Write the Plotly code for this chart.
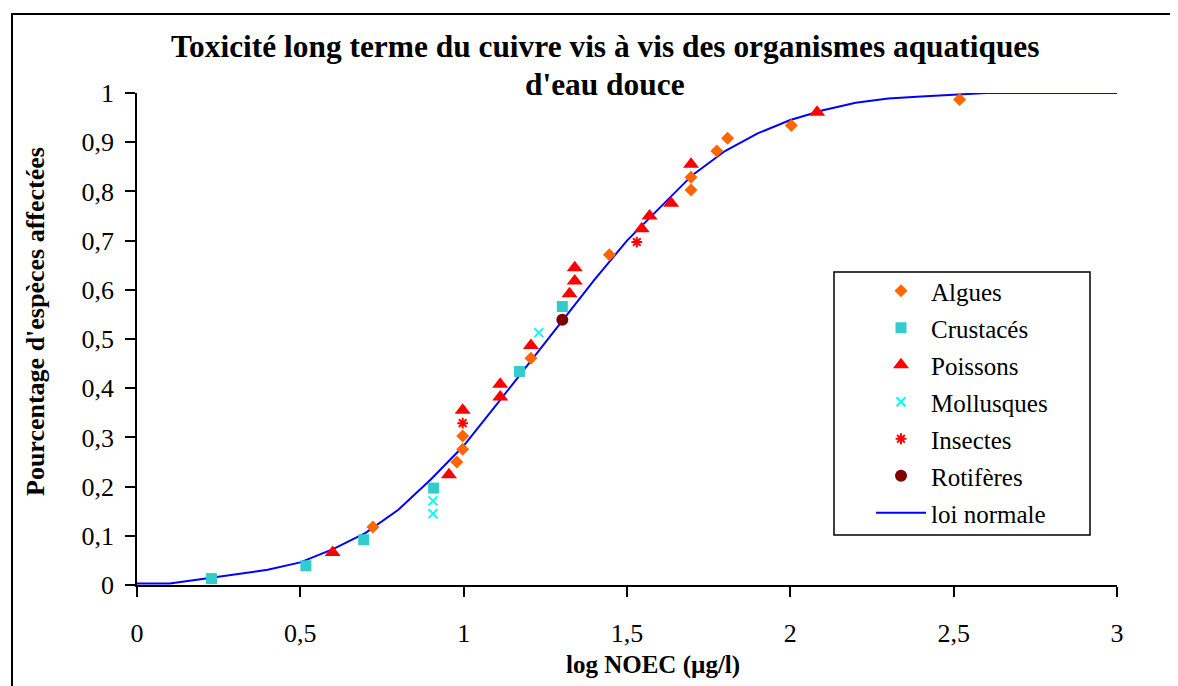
import plotly.graph_objects as go

# ---- data ----
algues_x = [0.722, 0.979, 0.997, 0.997, 1.206, 1.446, 1.696, 1.696, 1.775, 1.808, 2.003, 2.518]
algues_y = [0.118, 0.250, 0.276, 0.303, 0.461, 0.671, 0.803, 0.829, 0.882, 0.908, 0.934, 0.987]

crust_x = [0.228, 0.517, 0.694, 0.908, 1.171, 1.302]
crust_y = [0.013, 0.039, 0.092, 0.197, 0.434, 0.566]

poiss_x = [0.599, 0.955, 0.997, 1.112, 1.112, 1.206, 1.324, 1.340, 1.340, 1.545, 1.569, 1.635, 1.696, 2.082]
poiss_y = [0.066, 0.224, 0.355, 0.382, 0.408, 0.487, 0.592, 0.618, 0.645, 0.724, 0.750, 0.776, 0.855, 0.961]

moll_x = [0.906, 0.906, 1.230]
moll_y = [0.145, 0.171, 0.513]

insect_x = [0.997, 1.530]
insect_y = [0.329, 0.697]

rotif_x = [1.302]
rotif_y = [0.539]

curve_x = [0.0, 0.1, 0.2, 0.3, 0.4, 0.5, 0.6, 0.7, 0.8, 0.9, 1.0, 1.1, 1.2, 1.3, 1.4, 1.5,
           1.6, 1.7, 1.8, 1.9, 2.0, 2.1, 2.2, 2.3, 2.4, 2.5, 2.6, 2.7, 2.8, 2.9, 3.0]
curve_y = [0.003, 0.003, 0.012, 0.021, 0.031, 0.046, 0.073, 0.106, 0.153, 0.215, 0.283,
           0.366, 0.451, 0.535, 0.620, 0.700, 0.767, 0.833, 0.882, 0.918, 0.945, 0.965,
           0.980, 0.989, 0.993, 0.996, 1.0, 1.0, 1.0, 1.0, 1.0]

x_ticks = [0, 0.5, 1, 1.5, 2, 2.5, 3]
y_ticks = [0, 0.1, 0.2, 0.3, 0.4, 0.5, 0.6, 0.7, 0.8, 0.9, 1]

title_l1 = "Toxicité long terme du cuivre vis à vis des organismes aquatiques"
title_l2 = "d'eau douce"
x_title = "log NOEC (µg/l)"
y_title = "Pourcentage d'espèces affectées"

FONT = "Liberation Serif"

fig = go.Figure()

fig.add_trace(go.Scatter(
    x=curve_x, y=curve_y, mode="lines", name="loi normale",
    line=dict(color="#0000FF", width=2), legendrank=7, legendgroup="g7"))

series = [
    ("Algues", algues_x, algues_y, dict(symbol="diamond", size=10, color="#FF6600")),
    ("Crustacés", crust_x, crust_y, dict(symbol="square", size=11, color="#33CCCC")),
    ("Poissons", poiss_x, poiss_y, dict(symbol="triangle-up", size=14, color="#FF0000")),
    ("Mollusques", moll_x, moll_y, dict(symbol="x-thin-open", size=9, color="#00FFFF",
                                        line=dict(color="#00FFFF", width=2))),
    ("Insectes", insect_x, insect_y, dict(symbol="asterisk-open", size=9, color="#FF0000",
                                          line=dict(color="#FF0000", width=2))),
    ("Rotifères", rotif_x, rotif_y, dict(symbol="circle", size=12, color="#800000")),
]
for i, (name, xs, ys, mk) in enumerate(series):
    fig.add_trace(go.Scatter(
        x=xs, y=ys, mode="markers", name=name, marker=mk,
        cliponaxis=False, legendrank=i + 1, legendgroup="g%d" % i))

# the page has an 8 px body margin: work in screen pixels, convert to figure pixels
OFF = 8
W, H = 1178 - OFF, 686 - OFF
PL, PR, PT, PB = 137, 1117, 93, 585  # plot area in screen px
L, R, T, B = PL - OFF, W - (PR - OFF), PT - OFF, H - (PB - OFF)
pw, ph = PR - PL, PB - PT

def px2x(p):
    return (p - PL) / pw

def px2y(p):
    return (PB - p) / ph

axis_common = dict(
    showline=True, linecolor="black", linewidth=1.5, ticks="outside",
    ticklen=10, tickwidth=1.5, tickcolor="black", showgrid=False, zeroline=False,
    tickfont=dict(family=FONT, size=26, color="black"), mirror=False,
)

fig.update_layout(
    width=W, height=H,
    margin=dict(l=L, r=R, t=T, b=B, pad=0),
    paper_bgcolor="white", plot_bgcolor="white",
    separators=", ",
    showlegend=True,
    font=dict(family=FONT, color="black"),
    xaxis=dict(range=[0, 3], tickvals=x_ticks, ticklabelstandoff=14, **axis_common),
    yaxis=dict(range=[0, 1], tickvals=y_ticks, ticklabelstandoff=6, **axis_common),
    legend=dict(
        x=px2x(834), y=px2y(268), xanchor="left", yanchor="top",
        bgcolor="rgba(0,0,0,0)", borderwidth=0,
        font=dict(family=FONT, size=25, color="black"),
        tracegroupgap=1.5, indentation=37, itemwidth=50,
    ),
    shapes=[
        dict(type="rect", xref="paper", yref="paper",
             x0=px2x(12), y0=-0.4, x1=1.2, y1=px2y(14),
             line=dict(color="black", width=2), layer="below"),
        dict(type="rect", xref="paper", yref="paper",
             x0=px2x(834), y0=px2y(535), x1=px2x(1090), y1=px2y(272),
             line=dict(color="black", width=1.5), fillcolor="white", layer="above"),
    ],
    annotations=[
        dict(text="<b>%s</b>" % title_l1, xref="paper", yref="paper", x=px2x(605), y=px2y(47),
             xanchor="center", yanchor="middle", showarrow=False,
             font=dict(family=FONT, size=31.4, color="black")),
        dict(text="<b>%s</b>" % title_l2, xref="paper", yref="paper", x=px2x(605), y=px2y(85),
             xanchor="center", yanchor="middle", showarrow=False,
             font=dict(family=FONT, size=31.4, color="black")),
        dict(text="<b>%s</b>" % x_title, xref="paper", yref="paper", x=px2x(653), y=px2y(665),
             xanchor="center", yanchor="middle", showarrow=False,
             font=dict(family=FONT, size=25, color="black")),
        dict(text="<b>%s</b>" % y_title, xref="paper", yref="paper", x=px2x(35), y=px2y(322),
             xanchor="center", yanchor="middle", showarrow=False, textangle=-90,
             font=dict(family=FONT, size=26, color="black")),
    ],
)

fig.write_html("out.html")
